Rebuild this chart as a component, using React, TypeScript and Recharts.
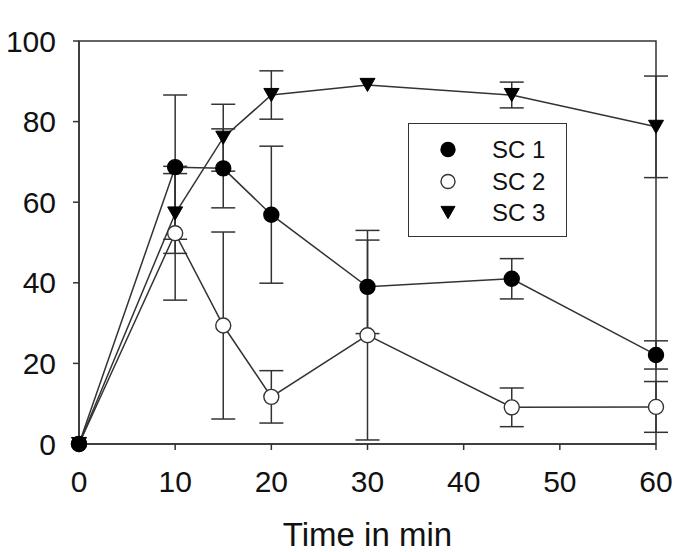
import {
  ComposedChart,
  ErrorBar,
  Label,
  Legend,
  Line,
  ReferenceArea,
  XAxis,
  YAxis,
} from 'recharts';

const times = [0, 10, 15, 20, 30, 45, 60];
const sc1 = [0, 68.7, 68.4, 56.9, 39.0, 41.0, 22.1];
const sc1Err = [null, 17.9, 9.8, 17.0, 11.6, 5.0, 3.5];
const sc2 = [0, 52.3, 29.4, 11.7, 27.0, 9.1, 9.2];
const sc2Err = [null, 16.6, 23.2, 6.5, 26.0, 4.8, 6.3];
const sc3 = [0, 57.2, 76.0, 86.6, 89.1, 86.6, 78.7];
const sc3Err = [null, 9.9, 8.3, 6.0, null, 3.2, 12.6];

const xTicks = [0, 10, 20, 30, 40, 50, 60];
const yTicks = [0, 20, 40, 60, 80, 100];

const data = times.map((t, i) => ({
  time: t,
  sc1: sc1[i],
  sc1Err: sc1Err[i],
  sc2: sc2[i],
  sc2Err: sc2Err[i],
  sc3: sc3[i],
  sc3Err: sc3Err[i],
}));

const INK = '#333';
const FONT = '"Liberation Sans", Arial, sans-serif';

const legendItems = [
  { name: 'SC 1', shape: 'filled' },
  { name: 'SC 2', shape: 'open' },
  { name: 'SC 3', shape: 'triangle' },
];

function Marker({ shape, cx, cy, r }: { shape: string; cx: number; cy: number; r: number }) {
  if (shape === 'triangle') {
    const h = r * 1.75;
    return (
      <path
        d={`M${cx - r},${cy - h / 2} L${cx + r},${cy - h / 2} L${cx},${cy + h / 2} Z`}
        fill='#000'
        stroke='#000'
        strokeWidth={1}
      />
    );
  }
  return (
    <circle
      cx={cx}
      cy={cy}
      r={r}
      fill={shape === 'filled' ? '#000' : '#fff'}
      stroke={shape === 'filled' ? '#000' : '#333'}
      strokeWidth={1.4}
    />
  );
}

const makeDot = (shape: string) => (props: any) => {
  const { cx, cy, index } = props;
  if (cx == null || cy == null) return <g key={`${shape}-${index}`} />;
  return (
    <g key={`${shape}-${index}`}>
      <Marker shape={shape} cx={cx} cy={cy} r={7.5} />
    </g>
  );
};

function LegendBox() {
  return (
    <div
      style={{
        width: 159,
        height: 114,
        border: `1.5px solid ${INK}`,
        boxSizing: 'border-box',
        background: '#fff',
        position: 'relative',
        fontFamily: FONT,
      }}
    >
      {legendItems.map((item, i) => (
        <div
          key={item.name}
          style={{
            position: 'absolute',
            left: 0,
            top: 10 + i * 31.5,
            height: 31,
            display: 'flex',
            alignItems: 'center',
          }}
        >
          <svg width={83} height={31} style={{ display: 'block' }}>
            <Marker shape={item.shape} cx={39} cy={15.5} r={7} />
          </svg>
          <span style={{ fontSize: 24, color: '#111', lineHeight: '31px' }}>{item.name}</span>
        </div>
      ))}
    </div>
  );
}

export default function App() {
  return (
    <div style={{ width: 700, height: 544, marginLeft: -8, background: '#fff' }}>
      <ComposedChart
        width={700}
        height={544}
        data={data}
        margin={{ top: 33, right: 44, left: 19, bottom: 0 }}
      >
        <ReferenceArea x1={0} x2={60} y1={0} y2={100} fill='none' stroke={INK} strokeWidth={1.5} />
        <XAxis
          dataKey='time'
          type='number'
          domain={[0, 60]}
          ticks={xTicks}
          height={108}
          tickSize={6}
          tickMargin={21}
          stroke={INK}
          strokeWidth={1.5}
          tick={{ fontSize: 30, fill: '#111', fontFamily: FONT }}
        >
          <Label
            value='Time in min'
            position='insideBottom'
            offset={6}
            style={{ fontSize: 33, fill: '#111', fontFamily: FONT }}
          />
        </XAxis>
        <YAxis
          type='number'
          domain={[0, 100]}
          ticks={yTicks}
          width={60}
          tickSize={6}
          tickMargin={17}
          stroke={INK}
          strokeWidth={1.5}
          tick={{ fontSize: 30, fill: '#111', fontFamily: FONT }}
        />
        <Legend
          layout='vertical'
          align='center'
          verticalAlign='middle'
          wrapperStyle={{ left: 408, top: 115, width: 159, height: 114 }}
          content={() => <LegendBox />}
        />
        <Line
          dataKey='sc2'
          stroke={INK}
          strokeWidth={1.5}
          dot={makeDot('open')}
          activeDot={false}
          isAnimationActive={false}
        >
          <ErrorBar dataKey='sc2Err' width={12} stroke={INK} strokeWidth={1.5} direction='y' />
        </Line>
        <Line
          dataKey='sc3'
          stroke={INK}
          strokeWidth={1.5}
          dot={makeDot('triangle')}
          activeDot={false}
          isAnimationActive={false}
        >
          <ErrorBar dataKey='sc3Err' width={12} stroke={INK} strokeWidth={1.5} direction='y' />
        </Line>
        <Line
          dataKey='sc1'
          stroke={INK}
          strokeWidth={1.5}
          dot={makeDot('filled')}
          activeDot={false}
          isAnimationActive={false}
        >
          <ErrorBar dataKey='sc1Err' width={12} stroke={INK} strokeWidth={1.5} direction='y' />
        </Line>
      </ComposedChart>
    </div>
  );
}
